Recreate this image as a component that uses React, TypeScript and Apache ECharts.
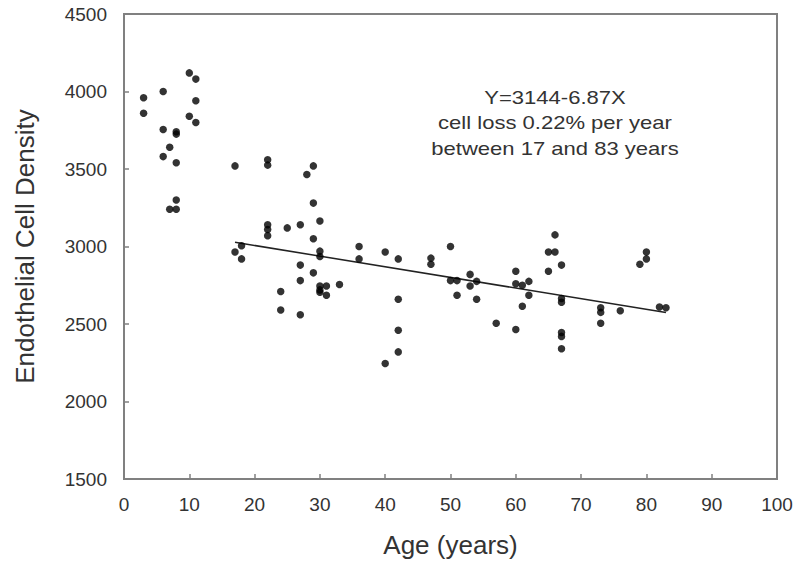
import React, { useEffect, useRef } from "react";
import * as echarts from "echarts";

const ages: number[] = [
  3, 3, 6, 6, 8, 8, 7, 6, 8, 8, 7, 8, 10, 11, 11, 10, 11,
  17, 22, 22, 29, 28, 29, 30, 22, 22, 22, 25, 27, 29, 18, 17, 18, 30, 30, 36, 36, 40, 42,
  27, 29, 27, 30, 31, 30, 30, 31, 33, 24, 24, 27, 42, 42, 42, 40,
  47, 47, 50, 50, 51, 53, 54, 53, 51, 54, 57, 60, 60, 61, 62, 62, 61, 60,
  66, 65, 66, 65, 67, 67, 67, 67, 67, 67, 73, 73, 73, 76, 79, 80, 80, 82, 83,
];
const densities: number[] = [
  3960, 3860, 4000, 3755, 3740, 3725, 3640, 3580, 3540, 3300, 3240, 3240, 4120, 4080, 3940, 3840, 3800,
  3520, 3560, 3525, 3520, 3465, 3280, 3165, 3140, 3110, 3070, 3120, 3140, 3050, 3005, 2965, 2920, 2970, 2935, 3000, 2920, 2965, 2920,
  2880, 2830, 2780, 2745, 2745, 2720, 2705, 2685, 2755, 2710, 2590, 2560, 2660, 2460, 2320, 2245,
  2925, 2885, 3000, 2780, 2780, 2820, 2775, 2745, 2685, 2660, 2505, 2840, 2760, 2750, 2775, 2685, 2615, 2465,
  3075, 2965, 2965, 2840, 2880, 2665, 2640, 2445, 2420, 2340, 2605, 2575, 2505, 2585, 2885, 2965, 2920, 2610, 2605,
];

const fitIntercept = 3144;
const fitSlope = -6.87;
const fitRange: number[] = [17, 83];

const annotationLines: string[] = [
  "Y=3144-6.87X",
  "cell loss 0.22% per year",
  "between 17 and 83 years",
];

const FONT = '"Liberation Sans", Arial, Helvetica, sans-serif';

export default function App() {
  const ref = useRef<HTMLDivElement>(null);
  useEffect(() => {
    if (!ref.current) return;
    const chart = echarts.init(ref.current, null, { renderer: "svg" });
    const points = ages.map((a, i) => [a, densities[i]]);
    const fitLine = fitRange.map((x) => [x, fitIntercept + fitSlope * x]);
    chart.setOption({
      animation: false,
      backgroundColor: "#ffffff",
      textStyle: { fontFamily: FONT },
      grid: {
        left: 124,
        right: 23,
        top: 14,
        bottom: 90,
        show: true,
        borderColor: "#808080",
        borderWidth: 2,
        backgroundColor: "transparent",
      },
      xAxis: {
        type: "value",
        min: 0,
        max: 100,
        interval: 10,
        name: "Age (years)",
        nameLocation: "middle",
        nameGap: 53,
        nameTextStyle: { fontSize: 26, color: "#333", fontFamily: FONT },
        axisLine: { show: true, lineStyle: { color: "#808080", width: 2 } },
        axisTick: { show: true, inside: true, length: 5, lineStyle: { color: "#808080", width: 1.5 } },
        axisLabel: { fontSize: 19, color: "#333", margin: 16, fontFamily: FONT, formatter: (v: number) => String(v) },
        splitLine: { show: false },
      },
      yAxis: {
        type: "value",
        min: 1500,
        max: 4500,
        interval: 500,
        name: "Endothelial Cell Density",
        nameLocation: "middle",
        nameGap: 86,
        nameTextStyle: { fontSize: 26, color: "#333", fontFamily: FONT },
        axisLine: { show: true, lineStyle: { color: "#808080", width: 2 } },
        axisTick: { show: true, inside: true, length: 5, lineStyle: { color: "#808080", width: 1.5 } },
        axisLabel: { fontSize: 19, color: "#333", margin: 17, fontFamily: FONT, formatter: (v: number) => String(v) },
        splitLine: { show: false },
      },
      series: [
        {
          type: "line",
          data: fitLine,
          symbol: "none",
          lineStyle: { color: "#222", width: 1.5 },
          z: 1,
        },
        {
          type: "scatter",
          data: points,
          symbol: "circle",
          symbolSize: 7.5,
          itemStyle: { color: "#000" },
          z: 2,
        },
      ],
      graphic: annotationLines.map((t, i) => ({
        type: "text",
        x: 555,
        y: 97 + i * 25.5,
        scaleX: 1.16,
        style: {
          text: t,
          fontSize: 19,
          fontFamily: FONT,
          fill: "#333",
          textAlign: "center",
          textVerticalAlign: "middle",
        },
      })),
    });
    return () => chart.dispose();
  }, []);
  return (
    <div
      ref={ref}
      style={{ position: "absolute", left: 0, top: 0, width: 800, height: 569 }}
    />
  );
}
